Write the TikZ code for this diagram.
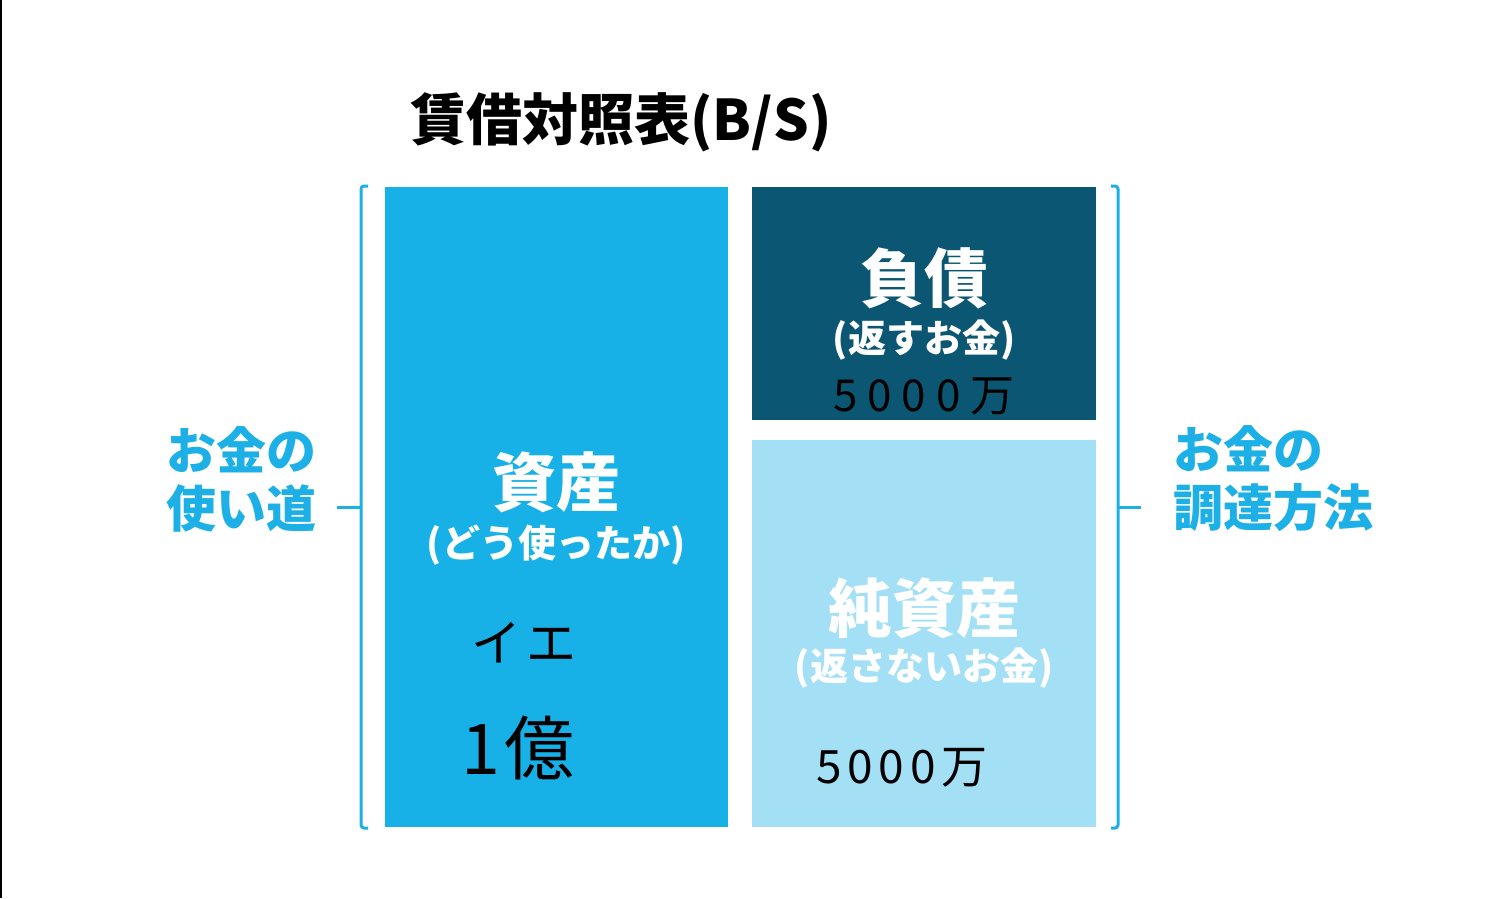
\documentclass[tikz,border=0pt]{standalone}
\usepackage{fontspec}
\setmainfont{Noto Sans CJK JP}
\definecolor{bscyan}{HTML}{17B1E7}
\definecolor{bsdark}{HTML}{0B5672}
\definecolor{bslight}{HTML}{A3E0F6}
\definecolor{bslabel}{HTML}{1DB0E6}
\tikzset{
  block/.style={draw=none,inner sep=0pt,anchor=north west},
  head/.style={text=white,inner sep=0pt,font=\fontsize{64}{68}\selectfont\bfseries},
  sub/.style={text=white,inner sep=0pt,font=\fontsize{38}{42}\selectfont\bfseries},
  side/.style={text=bslabel,inner sep=0pt,align=left,font=\fontsize{50}{58}\selectfont\bfseries},
  hand/.style={text=black,inner sep=0pt,font=\fontsize{46}{50}\selectfont\addfontfeature{LetterSpace=12}},
  bracket/.style={draw=bslabel,line width=3pt,rounded corners=3pt}
}
\begin{document}
\begin{tikzpicture}[x=1pt,y=-1pt]
    \useasboundingbox (0,0) rectangle (1485,898);
    \fill[white] (0,0) rectangle (1485,898);
    \draw[line width=2pt] (1,0) -- (1,898);
    \node[inner sep=0pt,font=\fontsize{56}{60}\selectfont\bfseries] (title) at (621,122) {賃借対照表(B/S)};
    \node[block,fill=bscyan,minimum width=343pt,minimum height=640pt] (asset) at (385,187) {};
    \node[block,fill=bsdark,minimum width=344pt,minimum height=233pt] (debt) at (752,187) {};
    \node[block,fill=bslight,minimum width=344pt,minimum height=387pt] (equity) at (752,440) {};
    \draw[bracket] (368,186) -- (361,186) -- (361,828) -- (368,828);
    \draw[bracket] (337,507) -- (361,507);
    \draw[bracket] (1111,186) -- (1118,186) -- (1118,828) -- (1111,828);
    \draw[bracket] (1118,507) -- (1141,507);
    \node[head] (assetname) at (556,482) {資産};
    \node[sub] (assetsub) at (556,545) {(どう使ったか)};
    \node[hand,font=\fontsize{50}{54}\selectfont\addfontfeature{LetterSpace=10}] (house) at (524,643) {イエ};
    \node[hand,font=\fontsize{70}{74}\selectfont\addfontfeature{LetterSpace=6}] (assetsum) at (518,748) {1億};
    \node[head] (debtname) at (924,278) {負債};
    \node[sub] (debtsub) at (924,340) {(返すお金)};
    \node[hand,font=\fontsize{44}{48}\selectfont\addfontfeature{LetterSpace=22}] (debtsum) at (924,396) {5000万};
    \node[hand] (equitysum) at (902,768) {5000万};
    \node[head] (equityname) at (924,608) {純資産};
    \node[sub] (equitysub) at (924,668) {(返さないお金)};
    \node[side,anchor=west] (use) at (166,479) {お金の\\使い道};
    \node[side,anchor=west] (raise) at (1173,479) {お金の\\調達方法};
\end{tikzpicture}
\end{document}
